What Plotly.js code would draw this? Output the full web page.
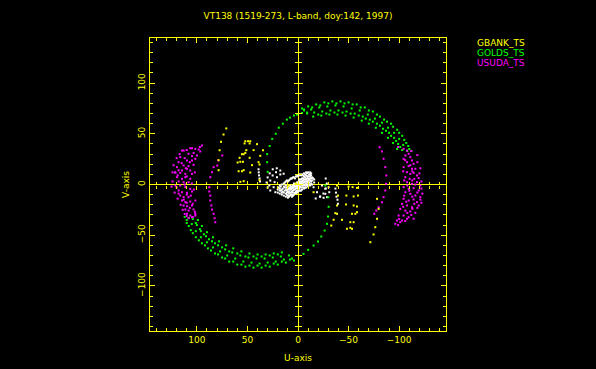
<!DOCTYPE html>
<html>
<head>
<meta charset="utf-8">
<script src="https://cdn.plot.ly/plotly-3.0.1.min.js"></script>
<style>html,body{margin:0;padding:0;background:#000;}#plot{width:596px;height:369px;}</style>
</head>
<body>
<div id="plot"></div>
<script>
// ---- chart text ----
const chartTitle = 'VT138 (1519-273, L-band, doy:142, 1997)';
const seriesNames = ['GBANK_TS', 'GOLDS_TS', 'USUDA_TS'];
const xTitle = 'U-axis';
const yTitle = 'V-axis';

// ---- GBANK_TS (u, v) ----
const gbankU = [70.9,73.6,76.1,77.5,78.5,78.5,
  52.1,49.4,47.2,52.8,47.8,51.1,43.9,34.6,40.5,55.4,53.7,52.1,57.7,47.8,37.3,59.7,57.0,54.4,45.5,38.0,58.7,55.4,53.7,47.2,57.0,53.7,38.0,
  39,9.3,2,-15.4,
  -38.6,-50.0,-54.0,-58.3,-39.5,-47.8,-55.0,-59.3,-38.6,-47.5,-55.0,-58.3,-36.9,-53.4,-56.7,-58.3,-35.2,-43.5,-51.7,-55.0,-32.9,-48.4,-51.7,-53.4,-38.6,
  -78.1,-79.7,-78.1,-76.4,-74.7,-71.5];
const gbankV = [55.3,49.3,42.1,33.8,24.0,14.1,
  42.7,42.7,42.7,40.5,40.5,33.9,33.9,33.9,39.8,29.9,29.9,31.2,26.3,26.3,28.3,21.7,22.4,22.4,19.1,19.7,13.1,13.1,14.1,11.8,2.6,3.3,4.3,
  22,-1,1,-7.6,
  -1.0,-2.0,-2.6,-3.3,-10.9,-10.9,-11.8,-10.9,-20.7,-19.7,-20.7,-21.7,-28.3,-28.9,-28.9,-27.3,-34.8,-34.8,-37.2,-37.2,-40.5,-43.7,-42.7,-43.7,-28.9,
  -14.1,-24.0,-33.8,-42.1,-49.3,-56.9];

// ---- GOLDS_TS (u, v) ----
const goldsU = [
  112,110,106,101,95,89,82,75,68,60,52,44,36,28,20,12,4,
  110,108,104,98,92,86,79,72,64,56,48,40,32,24,16,8,
  108,105,101,96,90,84,77,70,62,54,46,38,30,22,14,6,
  104,100,96,91,85,79,72,65,57,49,41,33,25,17,9,
  101,97,93,88,82,75,68,60,52,44,36,28,20,
  99,95,90,84,78,71,64,56,48,40,32,24,16,
  -112,-109,-105,-100,-94,-88,-81,-74,-66,-58,-50,-42,-34,-26,-18,-10,-4,
  -110,-107,-103,-98,-92,-85,-78,-70,-62,-54,-46,-38,-30,-22,-14,-6,
  -108,-104,-100,-95,-89,-83,-76,-69,-61,-53,-45,-37,-29,-21,-13,-6,
  -103,-99,-95,-90,-84,-78,-71,-64,-56,-48,-40,-32,-24,-16,-9,
  -101,-97,-92,-87,-81,-74,-67,-60,-52,-44,-36,-28,-20,
  -98,-94,-89,-83,-77,-70,-63,-55,-47,-39,-31,-23,-15,
  -9,-4,1,4,8,11,15,19,22,25.5,28,30.5,30.5,30,
  -27,-30,-30.3,-29.7,-28.7,-26.3,-23,-19.8,-15.4,-10,-5.5];
const goldsV = [
  -32,-38,-45,-52,-58,-63,-68,-72,-76,-79,-81,-82,-82,-81,-79,-77,-75,
  -35,-41,-48,-55,-60,-65,-69,-73,-76,-79,-80,-80,-80,-78,-76,-74,
  -33,-39,-46,-52,-57,-62,-66,-70,-73,-76,-77,-78,-77,-76,-74,-73,
  -34,-40,-46,-51,-56,-60,-64,-67,-70,-72,-73,-73,-72,-71,-70,
  -38,-44,-49,-54,-58,-62,-66,-68,-71,-71,-71,-70,-69,
  -35,-41,-47,-52,-56,-60,-63,-66,-68,-69,-69,-68,-67,
  33,38,44,51,57,62,67,72,76,79,81,82,82,81,79,77,75,
  35,41,48,54,60,64,69,73,76,79,80,80,80,78,76,74,
  33,39,45,51,56,61,65,69,73,75,77,78,77,76,74,73,
  34,40,46,51,55,60,64,67,70,72,73,73,72,71,70,
  37,43,48,53,58,62,65,68,70,71,71,70,69,
  35,41,46,51,56,60,63,66,68,69,69,68,67,
  71,70.5,69,68,66,64,60,56,50,45,38,30,22,12.5,
  -1,-12.5,-22,-31.6,-38.8,-45.4,-51.3,-56.2,-60.2,-64.5,-68.4];

// ---- USUDA_TS (u, v) ----
const usudaU = [
  94.9,98.2,101.5,106.5,96.6,103.2,113.1,108.2,104.8,99.9,116.4,109.7,104.8,101.5,118,113.1,108.2,103.2,119.7,114.7,109.7,106.5,121.3,116.4,111.4,104.8,119.7,114.7,111.4,106.5,118,113.1,108.2,121.3,116.4,111.4,106.5,118,114.7,109.7,104.8,116.4,113.1,108.2,114.7,111.4,106.5,101.5,113.1,109.7,104.8,111.4,108.2,103.2,109.7,106.5,101.5,108.2,
  104.8,114.7,121.3,104.8,101.5,
  97,110,117,112,120,107,115,123,111,118,124,102,110,119,124,105,112,120,125,103,110,118,122,106,113,119,104,110,116,107,114,102,112,104,110,
  74.8,78.8,79.8,83.4,85.0,86.7,87.7,87.7,86.7,86.7,85.7,85.0,83.4,82.5,81.8,
  -104.4,-107.8,-109.4,-106.1,-111.0,-104.4,-112.7,-107.8,-114.3,-109.4,-104.4,-112.7,-116.0,-107.8,-111.0,-114.3,-117.6,-106.1,-110.4,-115.0,-119.3,-107.8,-112.7,-117.6,-120.9,-104.4,-109.4,-114.3,-119.3,-106.1,-111.0,-116.0,-120.9,-104.4,-109.4,-114.3,-117.6,-102.8,-107.8,-112.7,-119.3,-101.1,-106.1,-111.0,-116.0,-99.5,-104.4,-109.4,-97.9,-102.8,-107.8,-96.2,-101.1,-114.3,
  -99,-112,-118,-106,-118,-111,-121,-104,-113,-120,-105,-113,-122,-108,-116,-122,-110,-118,-123,-105,-113,-121,-107,-115,-122,-104,-113,-118,-108,-112,-100,-106,-99,
  -80.7,-83.0,-84.6,-86.3,-87.3,-87.0,-86.3,-84.6,-83.0,-79.7,-77.4,-75.4];
const usudaV = [
  38.5,34.5,35.2,35.8,32.6,31.2,33.5,30.3,28.0,28.6,27.0,23.7,23.7,25.3,22.0,18.7,18.1,19.4,17.1,13.8,15.5,13.8,11.5,11.5,10.5,10.5,7.2,5.6,7.2,5.6,3.0,2.3,2.3,-1.0,-1.0,-2.6,-4.3,-5.9,-7.6,-8.2,-6.9,-10.9,-12.5,-12.5,-15.8,-17.4,-16.8,-15.8,-20.7,-21.4,-20.7,-24.7,-25.7,-24.7,-28.9,-30.6,-28.9,-33.2,
  35.8,33.5,12.1,-32.3,-30.6,
  37,34,30,26,26,22,21,19,16,14,12,12,8,9,3,1,0,-3,-2,-5,-10,-9,-8,-11,-15,-14,-19,-18,-20,-23,-25,-27,-29,-32,-31,
  28.6,23.7,18.7,17.1,12.1,7.2,-2.7,-6.9,-10.9,-15.8,-20.7,-24.7,-28.9,-33.3,-37.2,
  35.2,33.5,30.3,28.6,27.0,25.3,23.7,22.0,20.4,18.1,17.1,15.5,15.5,12.2,10.5,11.5,8.9,7.2,5.6,5.6,6.3,2.3,0.7,2.3,-1.0,-2.6,-4.3,-3.6,-5.9,-7.6,-9.2,-10.9,-12.5,-14.1,-15.8,-14.8,-17.4,-19.1,-20.7,-22.4,-20.7,-24.0,-25.7,-26.6,-27.9,-30.6,-30.6,-32.3,-35.5,-35.5,-33.8,-38.8,-37.2,-33.8,
  37,33,29,24,22,19,16,13,13,11,4,4,3,-1,0,-4,-6,-8,-9,-11,-12,-15,-17,-19,-18,-22,-24,-23,-28,-30,-34,-36,-40,
  36.8,32.6,25.4,17.1,8.9,0.7,-5.9,-12.5,-17.5,-22.4,-25.7,-28.9];

// ---- other (short) baselines, white ----
const otherU = [
  13,12,11,10,10,9,8,8,7,6,6,5,4,4,3,2,2,1,0,0,-1,-1,-2,-3,-3,-4,-4,-5,-5,-6,-6,-7,-7,-8,-8,-9,-9,-10,-10,-11,-12,-12,-13,-14,-14,15,16,17,18,19,
  14,13,12,12,11,11,10,10,9,9,8,8,7,7,7,6,6,5,5,5,4,4,3,3,3,2,2,1,1,1,0,0,-1,-1,-1,-2,-2,-2,-3,-3,-4,-4,-5,-5,-6,-6,-7,-7,-8,-8,-9,-9,-10,-10,-11,-11,-12,-12,-13,-13,-14,-15,-16,-16,16,18,20,17,15,14,
  14,12,10,8,6,4,2,0,-2,-4,-6,-8,-10,-12,16,18,20,
  14,12,10,8,6,4,2,0,-2,-4,-6,-8,-10,-12,16,18,
  11,9,7,5,3,1,-1,-3,-5,-7,-9,-11,-13,
  13,11,9,7,5,3,1,-1,-3,-5,-7,-9,-11,-13,
  27.4,28.4,27.4,25.1,21.7,17.5,22.4,24.1,23.1,20.8,17.5,14.2,30,31,30,28,25,21,
  39,38.8,38.5,38,37.5,
  -15.4,-18.8,-22,-25.3,-27,-27,-23.7,-30.3,-30.9,-28.7,-27.4,-28.4,-27.4,-25.1,-21.7,-17.5,
  -37,-37.5,-38,-39,-39.5];
const otherV = [
  -6,-9,-3,-7,-11,-4,-8,-1,-5,-10,-2,-6,-3,1,-8,-4,0,-6,-2,2,-4,5,0,3,-3,6,1,-1,4,8,2,5,-1,9,3,6,0,4,8,2,6,10,3,7,0,-4,-8,-2,-6,-3,
  -8,-3,-5,-1,-8,-6,-2,-5,-7,-9,-3,-5,-8,-2,-3,-4,-7,-3,-1,-8,-5,-1,-2,-5,0,-2,-7,-1,-3,2,0,-4,1,-2,3,2,-2,5,1,5,3,-1,2,6,0,5,3,7,1,5,3,8,2,6,5,8,4,8,6,9,4,6,2,5,-5,-4,-5,-6,-7,-2,
  -11,-12,-13,-11,-12,-10,-9,-7,-6,-5,-4,-3,-2,-1,-10,-9,-8,
  1,3,3,5,6,7,8,9,10,10,11,12,12,12,0,-1,
  -10,-12,-10,-11,-9,-8,-6,-6,-3,-3,-1,0,1,
  2,4,4,6,7,6,8,9,9,9,10,11,10,11,
  -5.9,-1.0,3.9,8.9,12.1,13.8,-7.6,-2.7,2.3,7.2,9.9,10.6,-3,2,7,11,15,16,
  15,12,9,6,3,
  -2.7,-7.6,-11.8,-13.1,-9.2,-4.2,-1.0,-2.7,-7.6,-12.5,5.9,1.0,-3.9,-8.9,-12.1,-13.8,
  -4,-8,-12,-15,-19];

const YEL = '#ffff00', GRN = '#00ff00', MAG = '#ff00ff', WHT = '#ffffff';
const FONT = 'DejaVu Sans';
const xRange = [146.3, -146.3];
const yRange = [-144.5, 144.5];

function dots(u, v, color, name) {
  return {type: 'scatter', mode: 'markers', x: u, y: v, name: name,
    marker: {symbol: 'square', size: 2, color: color, line: {width: 0}},
    showlegend: false, hoverinfo: 'skip'};
}

const traces = [
  dots(otherU, otherV, WHT, 'other'),
  dots(goldsU, goldsV, GRN, seriesNames[1]),
  dots(usudaU, usudaV, MAG, seriesNames[2]),
  dots(gbankU, gbankV, YEL, seriesNames[0]),
  {type:'scatter', x:[], y:[], xaxis:'x2', yaxis:'y', showlegend:false},
  {type:'scatter', x:[], y:[], xaxis:'x3', yaxis:'y', showlegend:false},
  {type:'scatter', x:[], y:[], xaxis:'x', yaxis:'y2', showlegend:false},
  {type:'scatter', x:[], y:[], xaxis:'x', yaxis:'y3', showlegend:false}
];

const tickFont = {family: FONT, size: 9, color: YEL};
const baseAxis = {
  showgrid: false, showline: true, linecolor: YEL, linewidth: 1, mirror: 'ticks',
  ticks: 'inside', ticklen: 5, tickwidth: 1, tickcolor: YEL, tick0: 0, dtick: 50,
  minor: {dtick: 10, ticklen: 3, tickwidth: 1, tickcolor: YEL, ticks: 'inside', showgrid: false},
  zeroline: true, zerolinecolor: YEL, zerolinewidth: 1, tickfont: tickFont
};
function zeroAxis(range, ticks, pos, over) {
  return {range: range, overlaying: over, anchor: 'free', position: pos,
    showgrid: false, showline: false, zeroline: false, showticklabels: false,
    ticks: ticks, ticklen: 4, tickwidth: 1, tickcolor: YEL, tick0: 0, dtick: 50,
    minor: {dtick: 10, ticklen: 3, tickwidth: 1, tickcolor: YEL, ticks: ticks, showgrid: false}};
}

const layout = {
  width: 596, height: 369,
  paper_bgcolor: '#000', plot_bgcolor: '#000',
  margin: {l: 150, r: 150, t: 38, b: 38},
  showlegend: false,
  font: {family: FONT, color: YEL, size: 9},
  title: {text: chartTitle, x: 0.5, xref: 'paper', xanchor: 'center', y: 1 - 16/369, yref: 'container', yanchor: 'middle',
    font: {family: FONT, size: 9, color: YEL}},
  xaxis: Object.assign({}, baseAxis, {range: xRange,
    title: {text: xTitle, font: {family: FONT, size: 9, color: YEL}, standoff: 10}}),
  yaxis: Object.assign({}, baseAxis, {range: yRange, tickangle: -90,
    title: {text: yTitle, font: {family: FONT, size: 9, color: YEL}, standoff: 6}}),
  xaxis2: zeroAxis(xRange, 'outside', 0.5, 'x'),
  xaxis3: zeroAxis(xRange, 'inside', 0.5, 'x'),
  yaxis2: zeroAxis(yRange, 'outside', 0.5, 'y'),
  yaxis3: zeroAxis(yRange, 'inside', 0.5, 'y'),
  annotations: seriesNames.map((n, i) => ({
    text: n, xref: 'paper', yref: 'paper', x: (475 - 150) / 296, y: (330.7 - (42.7 + 10 * i)) / 293,
    xanchor: 'left', yanchor: 'middle', showarrow: false,
    font: {family: FONT, size: 9, color: [YEL, GRN, MAG][i]}
  }))
};

Plotly.newPlot('plot', traces, layout, {displayModeBar: false, staticPlot: true});
</script>
</body>
</html>
